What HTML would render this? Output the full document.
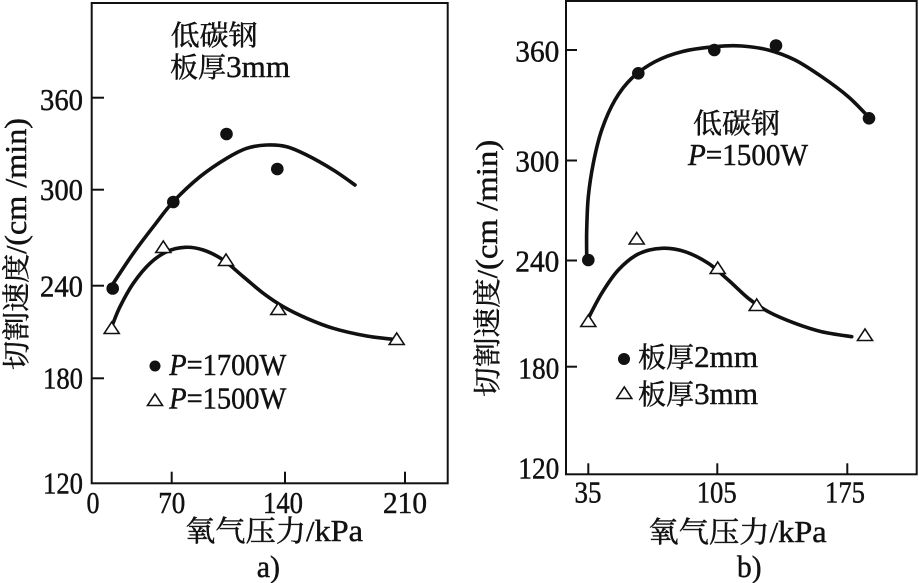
<!DOCTYPE html>
<html>
<head>
<meta charset="utf-8">
<style>
html,body{margin:0;padding:0;background:#fff;}
svg{display:block;}
text{font-family:"Liberation Serif","Noto Serif CJK SC",serif;fill:#111;stroke:#111;stroke-width:0.45;}
</style>
</head>
<body>
<svg width="919" height="583" viewBox="0 0 919 583" xmlns="http://www.w3.org/2000/svg">
<rect width="919" height="583" fill="#fff"/>

<!-- ===== Panel a ===== -->
<rect x="91.7" y="3" width="356" height="480.3" fill="none" stroke="#111" stroke-width="2"/>
<g stroke="#111" stroke-width="2">
  <line x1="92" y1="97.7" x2="104" y2="97.7"/>
  <line x1="92" y1="189.7" x2="104" y2="189.7"/>
  <line x1="92" y1="285.7" x2="104" y2="285.7"/>
  <line x1="92" y1="378.3" x2="104" y2="378.3"/>
  <line x1="171.7" y1="483" x2="171.7" y2="471.7"/>
  <line x1="285" y1="483" x2="285" y2="471.7"/>
  <line x1="405" y1="483" x2="405" y2="471.7"/>
</g>
<g font-size="31" text-anchor="end">
  <text x="83" y="110" textLength="43" lengthAdjust="spacingAndGlyphs">360</text>
  <text x="83" y="200" textLength="43" lengthAdjust="spacingAndGlyphs">300</text>
  <text x="83" y="296.7" textLength="43" lengthAdjust="spacingAndGlyphs">240</text>
  <text x="83" y="388.3" textLength="40" lengthAdjust="spacingAndGlyphs">180</text>
  <text x="83" y="493.3" textLength="40" lengthAdjust="spacingAndGlyphs">120</text>
</g>
<g font-size="31" text-anchor="middle">
  <text x="93" y="513" textLength="13" lengthAdjust="spacingAndGlyphs">0</text>
  <text x="171.7" y="513" textLength="27" lengthAdjust="spacingAndGlyphs">70</text>
  <text x="283" y="513" textLength="40" lengthAdjust="spacingAndGlyphs">140</text>
  <text x="405" y="513" textLength="44" lengthAdjust="spacingAndGlyphs">210</text>
</g>
<text x="185" y="541" font-size="29" textLength="178" lengthAdjust="spacingAndGlyphs">氧气压力/<tspan font-size="31">kPa</tspan></text>
<text x="256.7" y="577" font-size="31" textLength="23.3" lengthAdjust="spacingAndGlyphs">a)</text>
<text transform="translate(26,244) rotate(-90)" font-size="28" text-anchor="middle" textLength="252" lengthAdjust="spacingAndGlyphs">切割速度/<tspan font-size="31">(cm /min)</tspan></text>

<text x="170.7" y="45" font-size="28" textLength="87" lengthAdjust="spacingAndGlyphs">低碳钢</text>
<text x="170" y="77" font-size="28" textLength="120" lengthAdjust="spacingAndGlyphs">板厚<tspan font-size="31">3mm</tspan></text>

<!-- legend a -->
<circle cx="155" cy="366" r="5.5" fill="#111"/>
<text x="169.3" y="375" font-size="31" textLength="117" lengthAdjust="spacingAndGlyphs"><tspan font-style="italic">P</tspan>=1700W</text>
<polygon points="147.5,405.5 162.5,405.5 155,394" fill="#fff" stroke="#111" stroke-width="1.6"/>
<text x="169.3" y="408.3" font-size="31" textLength="117" lengthAdjust="spacingAndGlyphs"><tspan font-style="italic">P</tspan>=1500W</text>

<!-- curves a -->
<g fill="none" stroke="#111" stroke-width="3.6" stroke-linejoin="round" stroke-linecap="round">
  <path d="M113.3,283.3 C116.6,278.3 126.6,262.7 133.3,253.3 C140.0,243.9 146.6,235.3 153.3,226.7 C160.0,218.1 165.5,210.0 173.3,201.7 C181.1,193.4 191.1,183.9 200,176.7 C208.9,169.5 218.9,163.0 226.7,158.3 C234.5,153.6 240.0,150.5 246.7,148.3 C253.4,146.1 260.0,145.3 266.7,145 C273.4,144.7 280.0,145.0 286.7,146.7 C293.4,148.4 298.9,151.1 306.7,155 C314.5,158.9 325.3,165.0 333.3,170 C341.4,175.0 351.4,182.5 355,185"/>
  <path d="M111.7,326.7 C113.1,323.4 116.4,313.9 120,306.7 C123.6,299.5 128.3,290.5 133.3,283.3 C138.3,276.1 144.4,268.6 150,263.3 C155.6,258.0 160.9,254.4 166.7,251.7 C172.5,249.0 178.9,247.6 185,247.3 C191.1,247.0 196.9,247.9 203.3,250 C209.7,252.1 216.6,255.6 223.3,260 C230.0,264.5 236.6,271.2 243.3,276.7 C250.0,282.2 256.6,288.3 263.3,293.3 C270.0,298.3 276.1,302.5 283.3,306.7 C290.5,310.9 298.4,314.7 306.7,318.3 C315.0,321.9 323.3,325.4 333.3,328.3 C343.3,331.3 356.7,334.2 366.7,336 C376.7,337.8 388.9,338.8 393.3,339.3"/>
</g>
<g fill="#111">
  <circle cx="112.7" cy="288.5" r="6.3"/>
  <circle cx="173.3" cy="202" r="6.3"/>
  <circle cx="226.5" cy="134" r="6.3"/>
  <circle cx="277.3" cy="169" r="6.3"/>
</g>
<g fill="#fff" stroke="#111" stroke-width="1.6">
  <polygon points="104.2,333.5 119.2,333.5 111.7,322"/>
  <polygon points="155.8,252.5 170.8,252.5 163.3,241"/>
  <polygon points="218.5,265.5 233.5,265.5 226,254"/>
  <polygon points="270.8,314.5 285.8,314.5 278.3,303"/>
  <polygon points="389.2,344.5 404.2,344.5 396.7,333"/>
</g>

<!-- ===== Panel b ===== -->
<rect x="566" y="1" width="350.7" height="473.3" fill="none" stroke="#111" stroke-width="2"/>
<g stroke="#111" stroke-width="2">
  <line x1="566" y1="50" x2="577" y2="50"/>
  <line x1="566" y1="160.5" x2="577" y2="160.5"/>
  <line x1="566" y1="260.5" x2="577" y2="260.5"/>
  <line x1="566" y1="366.7" x2="577" y2="366.7"/>
  <line x1="588.3" y1="474" x2="588.3" y2="463.3"/>
  <line x1="717.3" y1="474" x2="717.3" y2="463.3"/>
  <line x1="847.3" y1="474" x2="847.3" y2="463.3"/>
</g>
<g font-size="31" text-anchor="end">
  <text x="559.3" y="61.7" textLength="44" lengthAdjust="spacingAndGlyphs">360</text>
  <text x="559.3" y="171.7" textLength="44" lengthAdjust="spacingAndGlyphs">300</text>
  <text x="559.3" y="271.7" textLength="44" lengthAdjust="spacingAndGlyphs">240</text>
  <text x="559.3" y="378.3" textLength="41" lengthAdjust="spacingAndGlyphs">180</text>
  <text x="559.3" y="478.3" textLength="41" lengthAdjust="spacingAndGlyphs">120</text>
</g>
<g font-size="31" text-anchor="middle">
  <text x="588" y="502.5" textLength="27" lengthAdjust="spacingAndGlyphs">35</text>
  <text x="716.7" y="502.5" textLength="40" lengthAdjust="spacingAndGlyphs">105</text>
  <text x="845" y="502.5" textLength="40" lengthAdjust="spacingAndGlyphs">175</text>
</g>
<text x="648.3" y="542" font-size="29" textLength="178.4" lengthAdjust="spacingAndGlyphs">氧气压力/<tspan font-size="31">kPa</tspan></text>
<text x="737" y="577" font-size="31" textLength="24.5" lengthAdjust="spacingAndGlyphs">b)</text>
<text transform="translate(497,268.3) rotate(-90)" font-size="28" text-anchor="middle" textLength="257" lengthAdjust="spacingAndGlyphs">切割速度/<tspan font-size="31">(cm /min)</tspan></text>

<text x="693" y="133" font-size="28" textLength="87" lengthAdjust="spacingAndGlyphs">低碳钢</text>
<text x="688" y="165" font-size="31" textLength="120" lengthAdjust="spacingAndGlyphs"><tspan font-style="italic">P</tspan>=1500W</text>

<!-- legend b -->
<circle cx="624" cy="359" r="6" fill="#111"/>
<text x="638" y="367" font-size="28" textLength="120" lengthAdjust="spacingAndGlyphs">板厚<tspan font-size="31">2mm</tspan></text>
<polygon points="616.8,398.5 631.8,398.5 624.3,387" fill="#fff" stroke="#111" stroke-width="1.6"/>
<text x="638" y="404" font-size="28" textLength="120" lengthAdjust="spacingAndGlyphs">板厚<tspan font-size="31">3mm</tspan></text>

<!-- curves b -->
<g fill="none" stroke="#111" stroke-width="3.6" stroke-linejoin="round" stroke-linecap="round">
  <path d="M586.7,256.7 C586.7,252.2 586.4,240.0 586.7,230 C587.0,220.0 587.2,207.8 588.3,196.7 C589.4,185.6 591.1,174.4 593.3,163.3 C595.5,152.2 598.1,140.6 601.7,130 C605.3,119.5 610.0,108.6 615,100 C620.0,91.4 625.0,84.7 631.7,78.3 C638.4,71.9 646.7,66.1 655,61.7 C663.3,57.3 671.7,54.2 681.7,51.7 C691.7,49.2 705.0,47.6 715,46.7 C725.0,45.7 732.8,45.4 741.7,46 C750.6,46.6 759.4,47.7 768.3,50 C777.2,52.3 786.1,55.6 795,60 C803.9,64.5 812.8,70.6 821.7,76.7 C830.6,82.8 840.5,90.0 848.3,96.7 C856.1,103.4 865.0,113.4 868.3,116.7"/>
  <path d="M588.3,318.3 C590.5,314.1 596.7,301.4 601.7,293.3 C606.7,285.2 612.2,276.6 618.3,270 C624.4,263.4 631.1,257.6 638.3,254 C645.5,250.4 653.9,248.7 661.7,248.3 C669.5,247.9 677.2,249.2 685,251.7 C692.8,254.2 701.1,258.6 708.3,263.3 C715.5,268.0 721.6,274.2 728.3,280 C735.0,285.8 741.6,293.0 748.3,298.3 C755.0,303.6 760.5,307.5 768.3,311.7 C776.1,315.9 786.1,320.0 795,323.3 C803.9,326.6 812.3,329.5 821.7,331.7 C831.2,333.9 846.7,335.9 851.7,336.7"/>
</g>
<g fill="#111">
  <circle cx="588.3" cy="260" r="6.3"/>
  <circle cx="638.3" cy="73.3" r="6.3"/>
  <circle cx="714.3" cy="50" r="6.3"/>
  <circle cx="776" cy="45.5" r="6.3"/>
  <circle cx="869" cy="118.3" r="6.3"/>
</g>
<g fill="#fff" stroke="#111" stroke-width="1.6">
  <polygon points="580.8,326.5 595.8,326.5 588.3,315"/>
  <polygon points="629.2,244 644.2,244 636.7,232.5"/>
  <polygon points="710.2,273.5 725.2,273.5 717.7,262"/>
  <polygon points="749.2,310.5 764.2,310.5 756.7,299"/>
  <polygon points="857.5,340.5 872.5,340.5 865,329"/>
</g>
</svg>
</body>
</html>
